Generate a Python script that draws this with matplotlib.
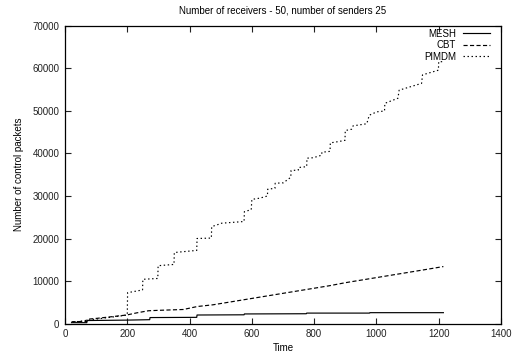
import matplotlib
matplotlib.use("Agg")
import matplotlib.pyplot as plt

plt.rcParams['font.family'] = ['Liberation Sans', 'DejaVu Sans']

# MESH - solid line, small steps
mesh_t = [21, 70, 71, 200, 272, 273, 423, 424, 575, 576, 775, 776, 978, 979, 1215]
mesh_v = [200, 200, 700, 800, 900, 1400, 1450, 2000, 2050, 2250, 2300, 2450, 2450, 2550, 2550]

# CBT - dashed line, roughly linear growth
cbt_t = [21, 70, 71, 100, 150, 198, 230, 268, 300, 380, 425, 475, 500, 550, 600,
         650, 700, 750, 800, 850, 900, 950, 1000, 1050, 1100, 1150, 1215]
cbt_v = [420, 500, 1000, 1200, 1600, 2000, 2500, 3000, 3100, 3300, 4000, 4400, 4700, 5300, 5900,
         6500, 7100, 7700, 8300, 8900, 9600, 10200, 10800, 11400, 12000, 12600, 13400]

# PIMDM - dotted line, staircase
pim_t = [25, 75, 150, 200, 201, 249, 250, 298, 299, 350, 351, 423, 424, 470, 471, 488, 503,
         575, 576, 598, 600, 626, 650, 651, 674, 675, 701, 725, 726, 749, 750, 776, 777,
         797, 824, 825, 851, 852, 878, 899, 900, 920, 925, 969, 977, 1001, 1026, 1027,
         1069, 1073, 1145, 1148, 1199, 1200, 1215]
pim_v = [300, 800, 1500, 2000, 7250, 7900, 10400, 10600, 13600, 13900, 16700, 17200, 20000,
         20100, 22800, 23200, 23600, 24000, 26300, 26800, 29200, 29500, 30000, 31600, 31800,
         33000, 33100, 34400, 36000, 36100, 36700, 36900, 38900, 39000, 39600, 40300, 40500,
         42500, 42800, 43100, 45400, 45700, 46500, 47000, 49000, 49800, 50000, 51800, 53000,
         54900, 56500, 58500, 59600, 61600, 61600]

x_ticks = [0, 200, 400, 600, 800, 1000, 1200, 1400]
y_ticks = [0, 10000, 20000, 30000, 40000, 50000, 60000, 70000]

fig = plt.figure(figsize=(5.13, 3.55), dpi=100)
ax = fig.add_axes([0.1267, 0.0887, 0.8499, 0.8381])

ax.plot(mesh_t, mesh_v, color='black', lw=0.85, ls='-', label='MESH')
ax.plot(cbt_t, cbt_v, color='black', lw=0.85, ls=(0, (3.5, 2)), label='CBT')
ax.plot(pim_t, pim_v, color='black', lw=0.85, ls=(0, (1.2, 2.2)), label='PIMDM')

ax.set_xlim(0, 1400)
ax.set_ylim(0, 70000)
ax.set_xticks(x_ticks)
ax.set_yticks(y_ticks)
ax.tick_params(direction='in', length=4, width=0.8, labelsize=7, top=True, right=True,
               pad=4, colors='#222222')
for s in ax.spines.values():
    s.set_linewidth(0.9)

ax.set_title('Number of receivers - 50, number of senders 25', fontsize=7, pad=9)
ax.set_xlabel('Time', fontsize=7, labelpad=3)
ax.set_ylabel('Number of control packets', fontsize=7, labelpad=6)

ax.legend(loc='upper right', bbox_to_anchor=(0.982, 1.0), frameon=False,
          markerfirst=False, fontsize=7, handlelength=2.8, handletextpad=0.7,
          labelspacing=0.15, borderaxespad=0.0, borderpad=0.3)

fig.savefig('out.png', dpi=100)
